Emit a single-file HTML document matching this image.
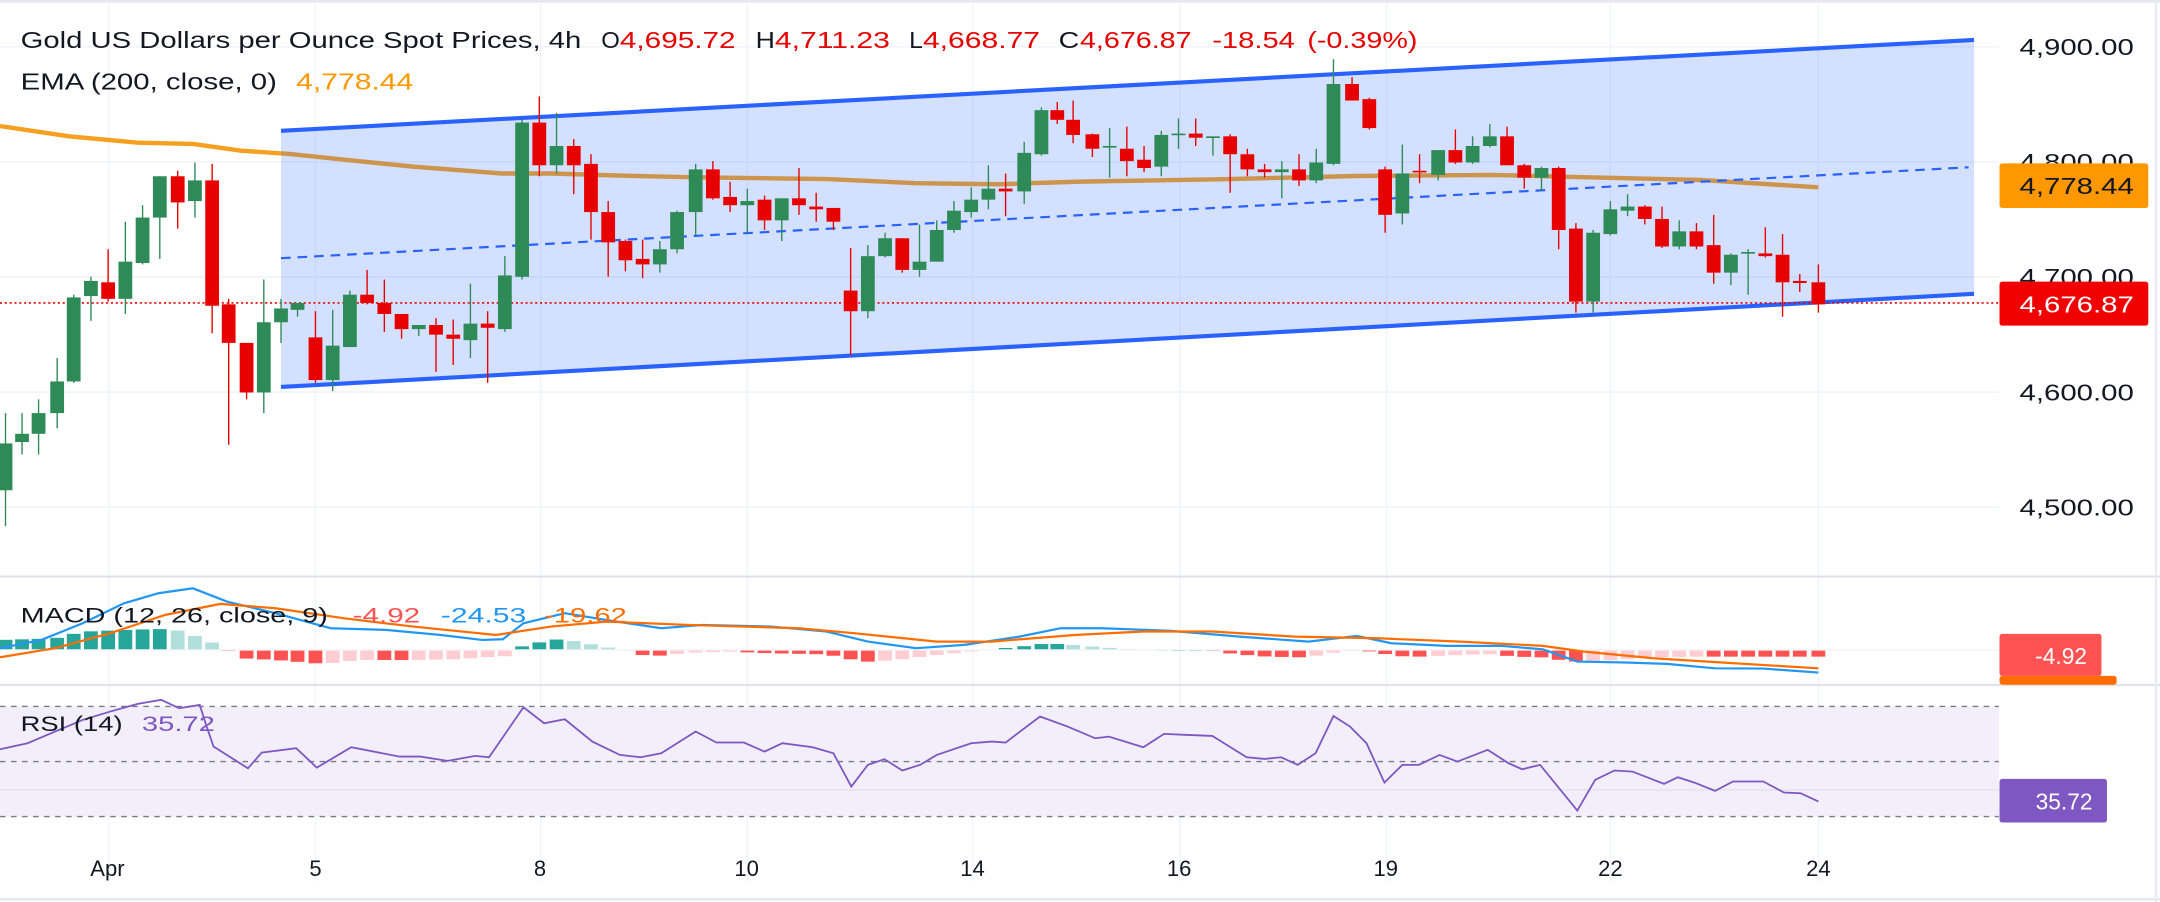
<!DOCTYPE html>
<html><head><meta charset="utf-8"><style>
html,body{margin:0;padding:0;background:#fff;overflow:hidden}
svg{display:block}
text{font-family:"Liberation Sans","DejaVu Sans",sans-serif}
</style></head><body>
<svg id="s" width="2160" height="902" viewBox="0 0 1568 655" preserveAspectRatio="none" xmlns="http://www.w3.org/2000/svg">
<rect width="1568" height="655" fill="#fff"/>
<g id="grid"></g>
<g id="main"></g>
<g id="macd"></g>
<g id="rsi"></g>
<g id="labels"></g>
</svg>
<script>
var NS="http://www.w3.org/2000/svg";
function el(p,t,a,txt){var e=document.createElementNS(NS,t);for(var k in a)e.setAttribute(k,a[k]);if(txt!==undefined)e.textContent=txt;document.getElementById(p).appendChild(e);return e;}
// grid
var py=function(p){return 33.9+(4900-p)*0.836;};
[4900,4800,4700,4600,4500].forEach(function(p){el('grid','line',{x1:0,x2:1451,y1:py(p),y2:py(p),stroke:'#f0f3fa','stroke-width':1.2});});
var vx=[79,229,392.5,542.5,706,856.5,1006.5,1169,1320];
vx.forEach(function(x){el('grid','line',{x1:x,x2:x,y1:0,y2:640,stroke:'#f0f3fa','stroke-width':1});});
el('grid','line',{x1:0,x2:1568,y1:1,y2:1,stroke:'#e6e9f0','stroke-width':2});
el('grid','line',{x1:0,x2:1568,y1:418.7,y2:418.7,stroke:'#e0e3eb','stroke-width':1.5});
el('grid','line',{x1:0,x2:1568,y1:497.4,y2:497.4,stroke:'#e0e3eb','stroke-width':1.5});
el('grid','line',{x1:0,x2:1568,y1:653,y2:653,stroke:'#e6e9f0','stroke-width':2});
el('grid','line',{x1:1565,x2:1565,y1:0,y2:655,stroke:'#e6e9f0','stroke-width':1.5});
// EMA
var ema=[[0,91.5],[50,99],[100,103.6],[140,104.5],[175,109.4],[210,111.8],[250,116],[300,121],[365,126],[400,126],[450,127.5],[500,128.7],[600,130],[665,133],[725,133.8],[784,131.9],[884,130.2],[984,127.8],[1084,127],[1134,128.3],[1234,130.7],[1320,136]];
el('main','polyline',{points:ema.map(function(p){return p.join(',')}).join(' '),fill:'none',stroke:'#f5a020','stroke-width':3.2,'stroke-linejoin':'round'});
// channel fill
el('main','polygon',{points:'204,95 1433,29 1433,213.4 204,281',fill:'rgba(41,98,255,0.2)'});
el('main','line',{x1:204,y1:95,x2:1433,y2:29,stroke:'#2962ff','stroke-width':3});
el('main','line',{x1:204,y1:281,x2:1433,y2:213.4,stroke:'#2962ff','stroke-width':3});
el('main','line',{x1:204,y1:187.5,x2:1429,y2:121.5,stroke:'#2962ff','stroke-width':1.6,'stroke-dasharray':'7,5'});
// price line
el('main','line',{x1:0,x2:1451,y1:220,y2:220,stroke:'#e00','stroke-width':1.2,'stroke-dasharray':'1.5,2'});
// candles [x, bodyTop, bodyBot, wickTop, wickBot, color]
var C=[[4,322,356,300,382,'g'],[16,315,321,300,330,'g'],[28,300,315,290,330,'g'],[41.5,277,300,260,311,'g'],[53.5,216,277,214,278,'g'],[66,204,215,201,233,'g'],[78.5,205,217,181,219,'r'],[91,190,217,161,228,'g'],[103.5,158,191,149,192,'g'],[116,128,158,128,188,'g'],[129,128,147,124,166,'r'],[141.5,131,146,118,158,'g'],[154,131,222,119,242,'r'],[166,221,249,217,323,'r'],[179,249,285,249,290,'r'],[191.5,234,285,203,300,'g'],[204,224,234,217,249,'g'],[216,220,225,220,230,'g'],[229,245,276,226,278,'r'],[241.5,251,276,225,284,'g'],[254,214,252,211,252,'g'],[266.5,214,220,196,221,'r'],[279,220,228,203,241,'r'],[291.5,228,239,228,246,'r'],[304,236,239,236,244,'g'],[316.5,236,243,231,270,'r'],[329,243,246,232,265,'r'],[341.5,235,247,206,260,'g'],[354,235,238,226,278,'r'],[366.5,200,239,186,241,'g'],[379,89,201,87,203,'g'],[391.5,89,120,70,128,'r'],[404,106,120,82,126,'g'],[416.5,106,120,101,141,'r'],[429,119,154,112,174,'r'],[441.5,154,176,146,201,'r'],[454,175,189,174,197,'r'],[466.5,188,192,174,202,'r'],[479,181,192,175,198,'g'],[491.5,154,181,153,184,'g'],[505,123,154,119,171,'g'],[517.5,123,144,117,145,'r'],[530,143,149,132,154,'r'],[542.5,146,149,137,169,'g'],[555,145,160,142,167,'r'],[567.5,144,160,144,175,'g'],[580,144,149,122,156,'r'],[592.5,150,152,140,161,'r'],[605,151,161,151,167,'r'],[617.5,211,226,180,258,'r'],[630,186,226,178,231,'g'],[642.5,173,186,169,187,'g'],[655,173,196,173,198,'r'],[667.5,190,196,163,201,'g'],[680,167,190,160,190,'g'],[692.5,153,167,146,169,'g'],[705,145,154,136,158,'g'],[717.5,137,145,120,152,'g'],[730,137,139,126,157,'r'],[743.5,111,139,103,148,'g'],[756,80,112,78,113,'g'],[767.5,80,87,74,90,'r'],[779,87,98,73,104,'r'],[793,97.5,108,97,114,'r'],[805.5,106,107,93,129,'g'],[818,108,117,92,128,'r'],[830.5,116,122,106,125,'r'],[843,98,121,95,128,'g'],[855.5,97,98,86,108,'g'],[868,97,100,86,106,'r'],[880.5,99,100,99,113,'g'],[893,99,112,97.5,140,'r'],[905.5,112,123,108,128,'r'],[918,123,125,119,129,'r'],[930.5,123,125,117,144,'g'],[943,123,131,112,135,'r'],[955.5,118,131,108,133,'g'],[968,61,119,43,120,'g'],[981.5,61,73,56,73,'r'],[994,72,93,71,94,'r'],[1005.5,123,156,121,169,'r'],[1018,126,155,105,163,'g'],[1030.5,124,125,112,133,'r'],[1044,109,127,109,131,'g'],[1056.5,109,118,94,119,'r'],[1069,106,118,99,119,'g'],[1081.5,99,106,90,107,'g'],[1094,99,120,92,120,'r'],[1106.5,120,129,119,137,'r'],[1119,122,129,121,139,'g'],[1131.5,122,167,121,181,'r'],[1144,166,219,162,227,'r'],[1156.5,169,219,167,227,'g'],[1169,152,170,146,171,'g'],[1181.5,150,153,141,157,'g'],[1194,150,159,149,163,'r'],[1206.5,159,179,150,180,'r'],[1219,168,179,160,181,'g'],[1231.5,168,179,162,181,'r'],[1244,178,198,156,206,'r'],[1256.5,185,198,184,207,'g'],[1269,183,184,181,214,'g'],[1281.5,184,186,165,187,'r'],[1294,185,205,170,230,'r'],[1306.5,204,205.5,199,212,'r'],[1320,205,221,192,227,'r']];
C.forEach(function(c){var col=c[5]=='g'?'#2e8b57':'#e60000';
el('main','line',{x1:c[0],x2:c[0],y1:c[3],y2:c[4],stroke:col,'stroke-width':1});
var h=Math.max(c[2]-c[1],1.2);el('main','rect',{x:c[0]-5,y:c[1],width:10,height:h,fill:col});});
// MACD
function interp(k,x){if(x<=k[0][0])return k[0][1];for(var i=1;i<k.length;i++){if(x<=k[i][0]){var a=k[i-1],b=k[i];return a[1]+(b[1]-a[1])*(x-a[0])/(b[0]-a[0]);}}return k[k.length-1][1];}
var hk=[[0,240],[40,235],[60,215],[90,210],[115,207],[130,212],[150,240],[165,268],[175,295],[200,300],[235,312],[260,300],[300,300],[330,298],[360,290],[372,288],[380,255],[405,238],[420,245],[440,262],[455,270],[465,285],[480,287],[500,278],[530,275],[560,280],[600,283],[620,300],[630,305],[650,300],[680,285],[710,272],[720,268],[745,258],[760,250],[780,255],[800,262],[820,268],[840,270],[880,270],[895,282],[920,290],[945,292],[960,285],[975,272],[1000,275],[1010,288],[1030,290],[1060,285],[1080,282],[1100,290],[1120,292],[1140,305],[1160,303],[1180,298],[1200,292],[1230,290],[1290,290],[1320,290]];
var z=472,prev=null;
C.forEach(function(c){var v=(270-interp(hk,c[0]))*0.242;var col;
if(v>=0)col=(prev===null||v>=prev)?'#26a69a':'#b2dfdb';else col=(prev===null||v<=prev)?'#ff5252':'#ffcdd2';
prev=v;var y=v>=0?z-v:z;el('macd','rect',{x:c[0]-5,y:y,width:10,height:Math.max(Math.abs(v),0.6),fill:col});});
el('macd','line',{x1:0,x2:1451,y1:z,y2:z,stroke:'#f0f3fa','stroke-width':1});
function pts(k){return k.map(function(p){return p[0]+','+(p[1]*0.242+406.6).toFixed(1)}).join(' ');}
var mk=[[0,265],[30,240],[60,190],[90,130],[115,100],[140,85],[165,125],[200,160],[240,205],[280,210],[320,225],[350,240],[365,238],[380,190],[410,160],[440,180],[480,205],[510,195],[560,200],[600,215],[630,245],[665,265],[700,255],[740,230],[770,205],[800,205],[850,213],[900,230],[950,245],[985,228],[1010,250],[1050,258],[1090,258],[1120,268],[1145,305],[1180,308],[1210,312],[1245,325],[1280,326],[1320,338]];
var sk=[[0,292],[40,265],[80,220],[120,165],[160,132],[200,145],[250,175],[300,200],[360,225],[400,200],[440,185],[500,195],[580,205],[620,220],[680,245],[720,245],[780,225],[830,215],[880,215],[940,230],[1000,235],[1060,245],[1120,258],[1150,275],[1200,295],[1250,308],[1320,325]];
el('macd','polyline',{points:pts(mk),fill:'none',stroke:'#2196f3','stroke-width':1.6});
el('macd','polyline',{points:pts(sk),fill:'none',stroke:'#ff6d00','stroke-width':1.6});
// RSI
el('rsi','rect',{x:0,y:513,width:1451,height:80,fill:'#f2eefa'});
el('rsi','line',{x1:0,x2:1451,y1:573.6,y2:573.6,stroke:'#e3e0ea','stroke-width':1});
[513,553,593].forEach(function(y){el('rsi','line',{x1:0,x2:1451,y1:y,y2:y,stroke:'#787b86','stroke-width':1,'stroke-dasharray':'4,4'});});
var rk=[[0,568],[20,550],[40,515],[60,480],[80,455],[100,432],[117,420],[130,445],[145,435],[150,500],[155,560],[180,625],[190,578],[215,565],[230,623],[255,562],[290,590],[305,590],[325,603],[345,588],[355,592],[380,442],[395,490],[410,478],[430,545],[450,585],[465,592],[480,580],[505,515],[520,548],[540,548],[555,575],[568,550],[590,562],[605,580],[618,680],[630,615],[642,598],[655,632],[668,615],[680,585],[705,550],[720,545],[730,548],[755,470],[775,500],[795,535],[805,530],[830,562],[845,522],[860,525],[880,528],[905,592],[918,597],[930,592],[942,615],[955,580],[968,468],[980,500],[992,550],[1005,668],[1018,615],[1030,615],[1045,585],[1058,605],[1080,570],[1095,610],[1105,628],[1118,615],[1145,752],[1158,660],[1172,632],[1185,635],[1208,672],[1218,652],[1230,668],[1245,693],[1258,665],[1280,665],[1295,698],[1307,700],[1320,725]];
el('rsi','polyline',{points:pts(rk),fill:'none',stroke:'#7e57c2','stroke-width':1.3});
// labels
function T(x,y,s,col,size,len,anchor){var a={x:x,y:y,fill:col,'font-size':size};if(len){a.textLength=len;a.lengthAdjust='spacingAndGlyphs';}if(anchor)a['text-anchor']=anchor;return el('labels','text',a,s);}
var dk='#131722',rd='#e60000';
T(15,35,'Gold US Dollars per Ounce Spot Prices, 4h',dk,17,407);
T(436.5,35,'O',dk,17,13.5);T(450,35,'4,695.72',rd,17,84);
T(548.5,35,'H',dk,17,14);T(562.5,35,'4,711.23',rd,17,83.5);
T(660,35,'L',dk,17,10);T(670,35,'4,668.77',rd,17,85);
T(768.5,35,'C',dk,17,15);T(784,35,'4,676.87',rd,17,81);
T(880,35,'-18.54',rd,17,60);T(949,35,'(-0.39%)',rd,17,80);
T(15,65,'EMA (200, close, 0)',dk,17,186);T(215,65,'4,778.44','#ff9800',17,85);
[4900,4800,4700,4600,4500].forEach(function(p){T(1549,py(p)+6,p.toLocaleString('en-US')+'.00',dk,16.5,83,'end');});
el('labels','rect',{x:1451.5,y:118.6,width:108,height:32.4,rx:2,fill:'#ff9800'});
T(1549,141,'4,778.44',dk,16.5,83,'end');
el('labels','rect',{x:1451.5,y:204.5,width:108,height:32,rx:2,fill:'#f00000'});
T(1549,227,'4,676.87','#fff',16.5,83,'end');
T(15,452,'MACD (12, 26, close, 9)',dk,15.5,223);T(256,452,'-4.92','#ff5252',15.5,49);T(320,452,'-24.53','#2196f3',15.5,62);T(395,452,'-19.62','#ff6d00',15.5,60);
el('labels','rect',{x:1451.5,y:490.8,width:85,height:6.4,rx:2,fill:'#ff6d00'});
el('labels','rect',{x:1451.5,y:460.3,width:74,height:30.5,rx:2,fill:'#ff5252'});
T(1515,482,'-4.92','#fff',16.5,null,'end');
T(15,531,'RSI (14)',dk,15.5,74);T(103,531,'35.72','#7e57c2',15.5,53);
el('labels','rect',{x:1451.5,y:565.6,width:78,height:31.7,rx:2,fill:'#7e57c2'});
T(1519,588,'35.72','#fff',16.5,null,'end');
[['Apr',78],['5',229],['8',392],['10',542],['14',706],['16',856],['19',1006],['22',1169],['24',1320]].forEach(function(d){T(d[1],636,d[0],dk,16,null,'middle');});
</script>
</body></html>
